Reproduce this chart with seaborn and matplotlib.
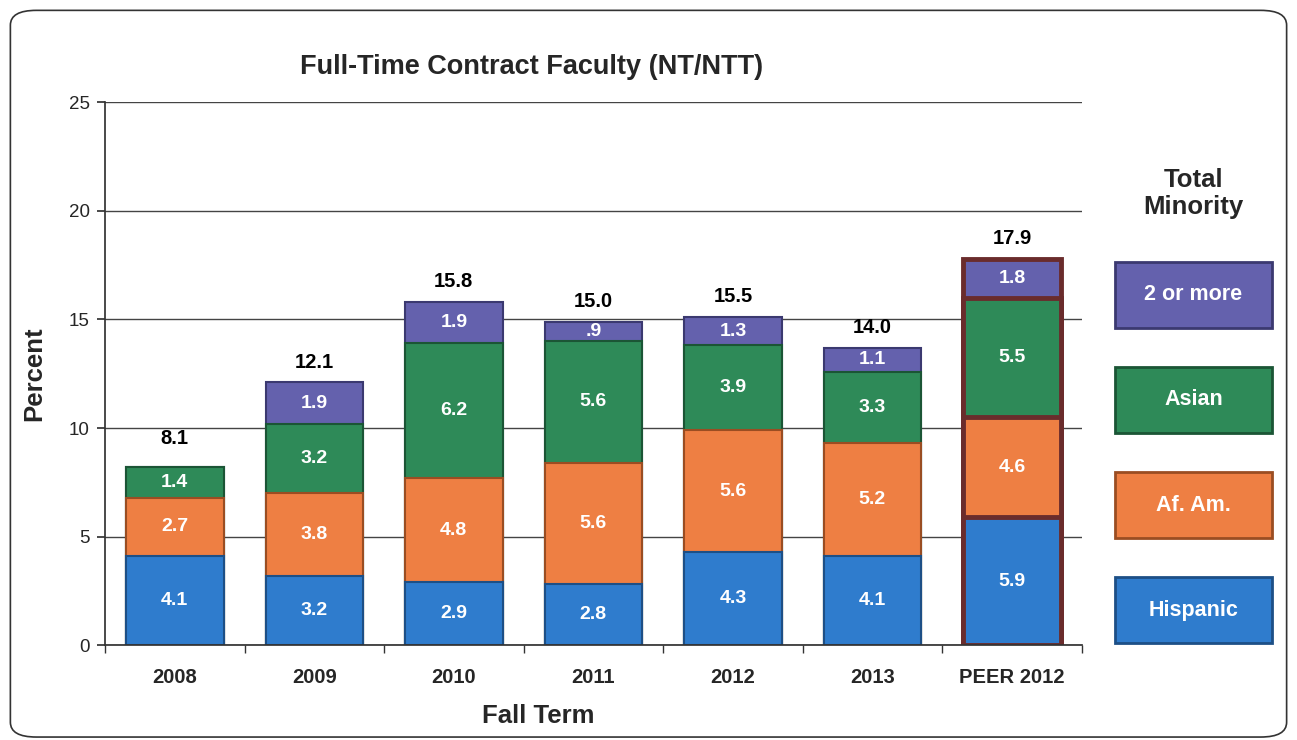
import numpy as np
import pandas as pd
import matplotlib
matplotlib.use("Agg")
import matplotlib.pyplot as plt
from matplotlib.patches import FancyBboxPatch, Rectangle
import seaborn as sns

# data
terms = ['2008', '2009', '2010', '2011', '2012', '2013', 'PEER 2012']
hispanic = [4.1, 3.2, 2.9, 2.8, 4.3, 4.1, 5.9]
af_am = [2.7, 3.8, 4.8, 5.6, 5.6, 5.2, 4.6]
asian = [1.4, 3.2, 6.2, 5.6, 3.9, 3.3, 5.5]
two_more = [0.0, 1.9, 1.9, 0.9, 1.3, 1.1, 1.8]
totals = [8.1, 12.1, 15.8, 15.0, 15.5, 14.0, 17.9]

groups = ['Hispanic', 'Af. Am.', 'Asian', '2 or more']
colors = ['#2f7ccd', '#ee7f43', '#2e8a58', '#6461ad']
edges = ['#1d4f86', '#9a4d22', '#1b5535', '#3b3970']

sns.set_theme(style="white")
plt.rcParams['font.family'] = ['Liberation Sans', 'DejaVu Sans']

df = pd.DataFrame({'term': terms, 'Hispanic': hispanic, 'Af. Am.': af_am,
                   'Asian': asian, '2 or more': two_more})
cum = df[groups].cumsum(axis=1)

fig = plt.figure(figsize=(12.97, 7.40), dpi=100)
ax = fig.add_axes([0.081, 0.128, 0.753, 0.734])

# frame around the whole chart
fig.add_artist(FancyBboxPatch((0.008, 0.004), 0.984, 0.982,
                              boxstyle="round,pad=0,rounding_size=0.02",
                              transform=fig.transFigure, fill=False,
                              edgecolor='#333333', linewidth=1.2))

# stacked bars: draw cumulative heights from the top layer down
for i in range(len(groups) - 1, -1, -1):
    sns.barplot(x=df['term'], y=cum[groups[i]], color=colors[i], width=0.7,
                edgecolor=edges[i], linewidth=1.5, saturation=1, ax=ax,
                zorder=2)

# PEER bar gets a dark maroon frame
for p in ax.patches:
    if abs(p.get_x() + p.get_width() / 2 - 6) < 0.01:
        p.set_edgecolor('#6a2c2c')
        p.set_linewidth(3.5)

# segment labels
for j in range(len(terms)):
    bottom = 0
    for i, g in enumerate(groups):
        v = df[g].iloc[j]
        if v > 0:
            txt = f"{v:.1f}"
            if txt.startswith('0'):
                txt = txt[1:]
            ax.text(j, bottom + v / 2, txt, ha='center', va='center',
                    color='white', fontsize=14, fontweight='bold', zorder=5)
        bottom += v
    off = 0.9 if j == 0 else 0.5
    ax.text(j, bottom + off, f"{totals[j]:.1f}", ha='center', va='bottom',
            color='black', fontsize=14.5, fontweight='bold', zorder=5)

ax.set_ylim(0, 25)
ax.set_xlim(-0.5, 6.5)
ax.set_yticks([0, 5, 10, 15, 20, 25])
ax.yaxis.grid(True, color='#444444', linewidth=1.0, zorder=0)
ax.set_axisbelow(True)
for s in ['top', 'right']:
    ax.spines[s].set_visible(False)
ax.spines['left'].set_color('#333333')
ax.spines['bottom'].set_color('#333333')
ax.tick_params(axis='y', left=True, length=6, color='#333333',
               labelsize=13.5, pad=5)
ax.tick_params(axis='x', bottom=False, labelsize=14.5, pad=10)
for lab in ax.get_xticklabels():
    lab.set_fontweight('bold')
ax.set_xticks(np.arange(-0.5, 7, 1), minor=True)
ax.tick_params(axis='x', which='minor', bottom=True, length=6,
               color='#333333', direction='out')

ax.set_xlabel('')
fig.text(0.415, 0.032, 'Fall Term', ha='center', va='center',
         fontsize=18.5, fontweight='bold')
ax.set_ylabel('Percent', fontsize=18.5, fontweight='bold', labelpad=16)
fig.text(0.41, 0.91, 'Full-Time Contract Faculty (NT/NTT)', ha='center',
         va='center', fontsize=19.5, fontweight='bold')

# legend boxes on the right
fig.text(0.92, 0.738, 'Total\nMinority', ha='center', va='center',
         fontsize=18.5, fontweight='bold', linespacing=1.15)
box_bottoms = [0.131, 0.273, 0.415, 0.557]
for i, g in enumerate(groups):
    fig.add_artist(Rectangle((0.8597, box_bottoms[i]), 0.121, 0.089,
                             transform=fig.transFigure, facecolor=colors[i],
                             edgecolor=edges[i], linewidth=2))
    fig.text(0.8597 + 0.0605, box_bottoms[i] + 0.0445, g, ha='center',
             va='center', color='white', fontsize=15.5, fontweight='bold')

fig.savefig('out.png', dpi=100)
